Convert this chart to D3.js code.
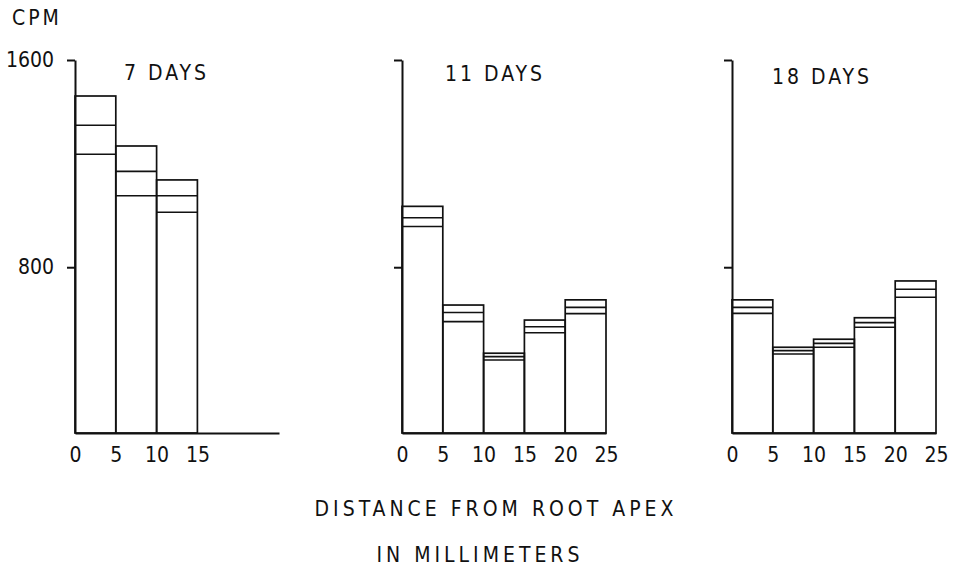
<!DOCTYPE html>
<html>
<head>
<meta charset="utf-8">
<script src="https://cdn.jsdelivr.net/npm/d3@7"></script>
<style>
  body { margin: 0; background: #fff; }
  svg { display: block; }
  text { font-family: 'DejaVu Sans Condensed', 'DejaVu Sans', sans-serif; fill: #111; }
  .axis path, .axis line { stroke: #111; stroke-width: 2; }
  .axis text { font-size: 21px; fill: #111; }
  .bar { fill: none; stroke: #111; stroke-width: 1.7; }
  .level { stroke: #111; stroke-width: 1.6; }
  .title { font-size: 21px; letter-spacing: 3px; white-space: pre; }
  .label { font-size: 21px; letter-spacing: 4px; }
</style>
</head>
<body>
<div id="chart"></div>
<script>
// distance bins along the root (mm)
const binStarts = [0, 5, 10, 15, 20];
const binWidth = 5;
const xTicks = [0, 5, 10, 15, 20, 25];
const yTicks = [800, 1600];

const titles = ['7 DAYS', '11 DAYS', '18 DAYS'];

// three readings per bin: top, middle and lower line
const days7High = [1461, 1268, 1137];
const days7Mid = [1348, 1170, 1076];
const days7Low = [1236, 1076, 1012];

const days11High = [1035, 654, 468, 596, 674];
const days11Mid = [991, 625, 455, 570, 645];
const days11Low = [957, 590, 442, 547, 621];

const days18High = [674, 491, 522, 605, 747];
const days18Mid = [645, 478, 506, 586, 715];
const days18Low = [622, 465, 491, 568, 684];

const width = 954;
const height = 567;
const yBase = 433;
const yTop = 60;
const panelWidth = 204;

// layout of the three panels
const layout = [
  { left: 75, titleX: 124, titleY: 80, yLabels: true },
  { left: 402, titleX: 445, titleY: 81, yLabels: false },
  { left: 732, titleX: 772, titleY: 84, yLabels: false }
];

const series = [
  [days7High, days7Mid, days7Low],
  [days11High, days11Mid, days11Low],
  [days18High, days18Mid, days18Low]
];

const toBars = ([high, mid, low]) =>
  high.map((h, i) => ({
    start: binStarts[i],
    end: binStarts[i] + binWidth,
    high: h,
    mid: mid[i],
    low: low[i]
  }));

const svg = d3
  .select('#chart')
  .append('svg')
  .attr('width', width)
  .attr('height', height);

svg
  .append('rect')
  .attr('width', width)
  .attr('height', height)
  .attr('fill', '#fff');

const y = d3.scaleLinear().domain([160, 1600]).range([yBase, yTop]);

const drawPanel = (p, i) => {
  const bars = toBars(series[i]);
  const x = d3
    .scaleLinear()
    .domain([0, 25])
    .range([p.left, p.left + panelWidth]);

  const g = svg.append('g');

  // bars: outline up to the top reading, inner lines for the others
  const bar = g
    .selectAll('.bar-group')
    .data(bars)
    .enter()
    .append('g')
    .attr('class', 'bar-group');

  bar
    .append('rect')
    .attr('class', 'bar')
    .attr('x', d => x(d.start))
    .attr('y', d => y(d.high))
    .attr('width', d => x(d.end) - x(d.start))
    .attr('height', d => y.range()[0] - y(d.high));

  ['mid', 'low'].forEach(key => {
    bar
      .append('line')
      .attr('class', 'level')
      .attr('x1', d => x(d.start))
      .attr('x2', d => x(d.end))
      .attr('y1', d => y(d[key]))
      .attr('y2', d => y(d[key]));
  });

  // x axis, labels only under the bars that exist
  const shown = xTicks.filter(t => t <= d3.max(bars, d => d.end));
  g.append('g')
    .attr('class', 'axis')
    .attr('transform', `translate(0,${yBase})`)
    .call(
      d3
        .axisBottom(x)
        .tickValues(shown)
        .tickSize(0)
        .tickPadding(14)
        .tickFormat(d3.format('d'))
    )
    .call(a => a.attr('font-family', null).attr('font-size', null));

  // y axis
  g.append('g')
    .attr('class', 'axis')
    .attr('transform', `translate(${p.left},0)`)
    .call(
      d3
        .axisLeft(y)
        .tickValues(yTicks)
        .tickSize(8)
        .tickSizeOuter(0)
        .tickPadding(13)
        .tickFormat(p.yLabels ? d3.format('d') : () => '')
    )
    .call(a => a.attr('font-family', null).attr('font-size', null));

  g.append('text')
    .attr('class', 'title')
    .attr('x', p.titleX)
    .attr('y', p.titleY)
    .text(titles[i]);
};

layout.forEach(drawPanel);

svg
  .append('text')
  .attr('x', 12)
  .attr('y', 25)
  .attr('font-size', 21)
  .attr('letter-spacing', 3)
  .text('CPM');

svg
  .append('text')
  .attr('class', 'label')
  .attr('x', 496)
  .attr('y', 516)
  .attr('text-anchor', 'middle')
  .text('DISTANCE FROM ROOT APEX');

svg
  .append('text')
  .attr('class', 'label')
  .attr('x', 480)
  .attr('y', 562)
  .attr('text-anchor', 'middle')
  .text('IN MILLIMETERS');
</script>
</body>
</html>
